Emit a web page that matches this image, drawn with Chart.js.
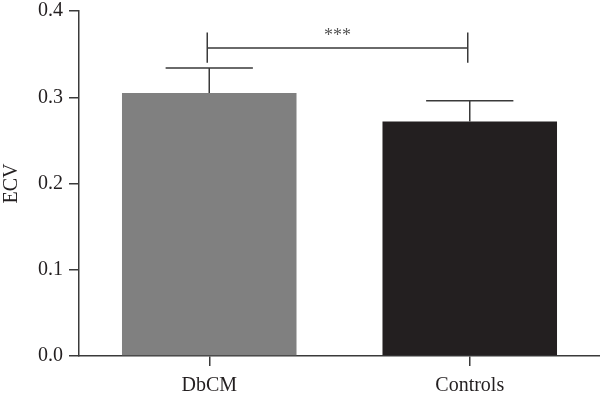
<!DOCTYPE html>
<html>
<head>
<meta charset="utf-8">
<script src="https://cdn.jsdelivr.net/npm/chart.js@4/dist/chart.umd.min.js"></script>
<style>
  html, body { margin: 0; padding: 0; background: #fff; }
  #wrap { width: 600px; height: 399px; }
</style>
</head>
<body>
<div id="wrap"><canvas id="ecvChart"></canvas></div>
<script>
const groups = ['DbCM', 'Controls'];
const ecvMean = [0.305, 0.272];
const ecvUpper = [0.334, 0.296];
const barColors = ['#808080', '#231f20'];
// significance bracket between the two groups
const bracketLevel = 0.357;
const bracketTicks = [0.340, 0.375];
const bracketLabel = '***';

const axisColor = '#3a3a3a';

// error bars + significance bracket drawn from the y scale
const errorBars = {
    id: 'errorBars',
    afterDatasetsDraw(chart) {
        const ctx = chart.ctx;
        const y = chart.scales.y;
        const meta = chart.getDatasetMeta(0);
        ctx.save();
        ctx.strokeStyle = axisColor;
        ctx.lineWidth = 1.5;
        meta.data.forEach((bar, i) => {
            const half = bar.width / 4;
            const top = y.getPixelForValue(ecvUpper[i]);
            const base = y.getPixelForValue(ecvMean[i]);
            ctx.beginPath();
            ctx.moveTo(bar.x, base);
            ctx.lineTo(bar.x, top);
            ctx.moveTo(bar.x - half, top);
            ctx.lineTo(bar.x + half, top);
            ctx.stroke();
        });

        const x1 = meta.data[0].x - 2;
        const x2 = meta.data[1].x - 2;
        const yb = y.getPixelForValue(bracketLevel);
        const yLo = y.getPixelForValue(bracketTicks[0]);
        const yHi = y.getPixelForValue(bracketTicks[1]);
        ctx.beginPath();
        ctx.moveTo(x1, yLo); ctx.lineTo(x1, yHi);
        ctx.moveTo(x2, yLo); ctx.lineTo(x2, yHi);
        ctx.moveTo(x1, yb); ctx.lineTo(x2, yb);
        ctx.stroke();

        ctx.fillStyle = '#555';
        ctx.font = '18px "Liberation Serif"';
        ctx.textAlign = 'center';
        ctx.textBaseline = 'bottom';
        ctx.fillText(bracketLabel, (x1 + x2) / 2, yb - 3);
        ctx.restore();
    }
};

const ctx = document.querySelector('#ecvChart').getContext('2d');
const chart = new Chart(ctx, {
    type: 'bar',
    data: {
        labels: groups,
        datasets: [{
            data: ecvMean,
            backgroundColor: barColors,
            borderWidth: 0,
            barPercentage: 0.67,
            categoryPercentage: 1.0
        }]
    },
    options: {
        responsive: true,
        maintainAspectRatio: false,
        animation: false,
        layout: { padding: 0 },
        plugins: {
            legend: { display: false },
            tooltip: { enabled: false }
        },
        scales: {
            x: {
                grid: {
                    offset: false,
                    drawOnChartArea: false,
                    tickLength: 10,
                    color: axisColor,
                    lineWidth: 1.5
                },
                border: { color: axisColor, width: 1.5 },
                ticks: {
                    color: '#231f20',
                    padding: 8,
                    font: { family: 'Liberation Serif', size: 20 }
                },
                afterFit(scale) { scale.height = 43; }
            },
            y: {
                min: 0,
                max: 0.4,
                ticks: {
                    stepSize: 0.1,
                    color: '#231f20',
                    padding: 6,
                    font: { family: 'Liberation Serif', size: 20 },
                    callback: v => v.toFixed(1)
                },
                grid: {
                    drawOnChartArea: false,
                    tickLength: 10,
                    color: axisColor,
                    lineWidth: 1.5
                },
                border: { color: axisColor, width: 1.5 },
                title: {
                    display: true,
                    text: 'ECV',
                    color: '#231f20',
                    padding: 0,
                    font: { family: 'Liberation Serif', size: 20 }
                },
                afterFit(scale) {
                    scale.width = 79;
                    scale.paddingTop = 11;
                }
            }
        }
    },
    plugins: [errorBars]
});
</script>
</body>
</html>
